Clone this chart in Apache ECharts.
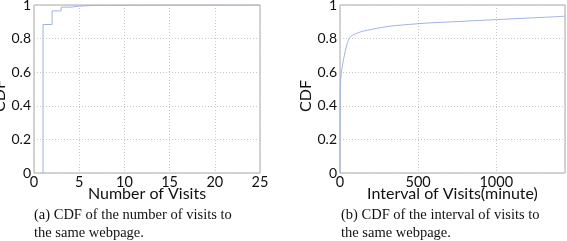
<!DOCTYPE html>
<html>
<head>
<meta charset="utf-8">
<script src="https://cdn.jsdelivr.net/npm/echarts@6/dist/echarts.min.js"></script>
<style>
html,body{margin:0;padding:0;background:#fff;}
#c{width:567px;height:241px;position:relative;}
</style>
</head>
<body>
<div id="c"></div>
<script>
// Panel (a): CDF of the number of visits
var visits = [1, 2, 3, 4, 5, 6, 7, 25];
var cdfVisits = [0.884, 0.965, 0.987, 0.993, 0.996, 0.998, 1.0, 1.0];
var visitTicks = [0, 5, 10, 15, 20, 25];

// Panel (b): CDF of the interval of visits (minutes)
var intervalMin = [0, 0.5, 1, 2, 4, 8, 12, 20, 28, 40, 58, 80, 117, 150, 203, 260, 320, 400, 480, 545, 700, 850, 1000, 1200, 1440];
var cdfInterval = [0, 0.25, 0.38, 0.48, 0.55, 0.59, 0.62, 0.665, 0.70, 0.75, 0.80, 0.82, 0.835, 0.845, 0.855, 0.865, 0.874, 0.881, 0.887, 0.892, 0.899, 0.906, 0.913, 0.922, 0.933];

var yTicks = [0, 0.2, 0.4, 0.6, 0.8, 1];
var yName = 'CDF';

var captionA = ['(a) CDF of the number of visits to', 'the same webpage.'];
var captionB = ['(b) CDF of the interval of visits to', 'the same webpage.'];

var lineColor = '#9fb4e0';
var sans = 'Lato';
var serif = 'Liberation Serif';

var dataA = [[visits[0], 0]].concat(visits.map(function (v, i) { return [v, cdfVisits[i]]; }));
var dataB = intervalMin.map(function (v, i) { return [v, cdfInterval[i]]; });

function xAxisCfg(idx, max, interval, name, showMax) {
  return {
    type: 'value', gridIndex: idx, min: 0, max: max, interval: interval,
    name: name, nameLocation: 'middle', nameGap: 13, nameMoveOverlap: false,
    nameTextStyle: { fontFamily: sans, fontSize: 16, color: '#111' },
    axisLine: { show: false }, axisTick: { show: false },
    axisLabel: { fontFamily: sans, fontSize: 14.5, color: '#111', margin: 2, showMaxLabel: showMax,
      formatter: function (v) { return String(v); } },
    splitLine: { show: true, lineStyle: { type: [1, 2], color: '#c8c8c8', width: 1 } }
  };
}
function yAxisCfg(idx, gap) {
  return {
    type: 'value', gridIndex: idx, min: yTicks[0], max: yTicks[yTicks.length - 1], interval: yTicks[1] - yTicks[0],
    name: yName, nameLocation: 'middle', nameGap: gap,
    nameTextStyle: { fontFamily: sans, fontSize: 16, color: '#111', padding: [0, 14, 0, 0] },
    axisLine: { show: false }, axisTick: { show: false },
    axisLabel: { fontFamily: sans, fontSize: 14, color: '#111', margin: 3 },
    splitLine: { show: true, lineStyle: { type: [1, 2], color: '#c8c8c8', width: 1 } }
  };
}

var chart = echarts.init(document.getElementById('c'), null, { renderer: 'canvas' });
chart.setOption({
  animation: false,
  backgroundColor: '#fff',
  grid: [
    { left: 34, top: 5, width: 226, height: 168, outerBoundsMode: 'none', containLabel: false, show: true, borderColor: '#a8a8a8', borderWidth: 1, backgroundColor: 'transparent' },
    { left: 340, top: 5, width: 225, height: 168, outerBoundsMode: 'none', containLabel: false, show: true, borderColor: '#a8a8a8', borderWidth: 1, backgroundColor: 'transparent' }
  ],
  xAxis: [
    xAxisCfg(0, visitTicks[visitTicks.length - 1], visitTicks[1] - visitTicks[0], 'Number of Visits', true),
    xAxisCfg(1, 1440, 500, 'Interval of Visits(minute)', false)
  ],
  yAxis: [yAxisCfg(0, 21), yAxisCfg(1, 21)],
  series: [
    { type: 'line', xAxisIndex: 0, yAxisIndex: 0, data: dataA, step: 'end', showSymbol: false, lineStyle: { color: lineColor, width: 1 } },
    { type: 'line', xAxisIndex: 1, yAxisIndex: 1, data: dataB, smooth: 0.3, showSymbol: false, lineStyle: { color: lineColor, width: 1 } }
  ],
  graphic: [
    { type: 'text', left: 34, top: 206, style: { text: captionA.join('\n'), font: '14.5px "' + serif + '"', fill: '#111', lineHeight: 18 } },
    { type: 'text', left: 341, top: 206, style: { text: captionB.join('\n'), font: '14.5px "' + serif + '"', fill: '#111', lineHeight: 18 } }
  ]
});
</script>
</body>
</html>
